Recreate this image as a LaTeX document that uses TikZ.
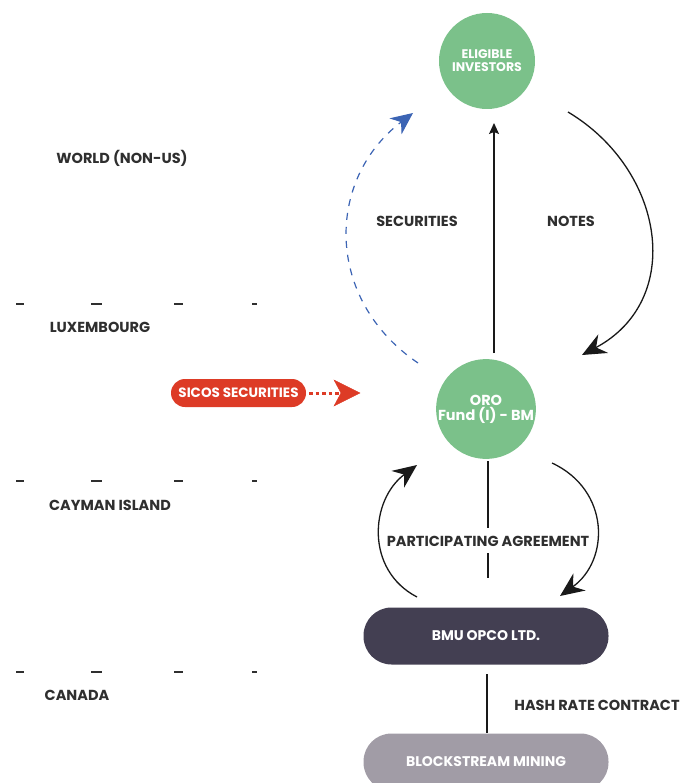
\documentclass[tikz,border=0pt]{standalone}
\usepackage{fontspec}
\setmainfont{Poppins}
\usetikzlibrary{arrows.meta}
\definecolor{grn}{HTML}{7BC18A}
\definecolor{darkbox}{HTML}{433F52}
\definecolor{greybox}{HTML}{A19CA6}
\definecolor{redbox}{HTML}{DD3B26}
\definecolor{bluearr}{HTML}{3C64B4}
\definecolor{txt}{HTML}{2F2F2F}
\begin{document}
\begin{tikzpicture}[x=1pt,y=-1pt,
  lbl/.style={font=\bfseries\fontsize{14.5}{16}\selectfont, text=txt, inner sep=0pt},
  circ/.style={circle, fill=grn, minimum size=96pt, inner sep=0pt, text=white, align=center},
  pill/.style={rectangle, rounded corners=28pt, minimum width=245pt, minimum height=57pt, text=white, inner sep=0pt, font=\bfseries\fontsize{14}{16}\selectfont},
  tip/.style={-{Stealth[length=24pt,width=21pt,inset=8pt]}},
  arr/.style={draw=black!90, line width=1.3pt},
  tick/.style={draw=txt, line width=1.4pt}]
\useasboundingbox (0,0) rectangle (689,783);
% left labels and ticks
\node[lbl] (world) at (122,158) {WORLD (NON-US)};
\node[lbl] (lux) at (100,327) {LUXEMBOURG};
\node[lbl] (cay) at (110,505) {CAYMAN ISLAND};
\node[lbl] (can) at (77,695) {CANADA};
\foreach \yy in {304,481,672}{
  \draw[tick] (16,\yy) -- (24,\yy);
  \draw[tick] (91,\yy) -- (102,\yy);
  \draw[tick] (174,\yy) -- (183,\yy);
  \draw[tick] (252,\yy) -- (257,\yy);
}
% nodes
\node[circ, font=\bfseries\fontsize{12.5}{14}\selectfont] (inv) at (487,61) {ELIGIBLE\\[-1pt]INVESTORS};
\node[circ, font=\bfseries\fontsize{14.5}{16}\selectfont] (oro) at (486,409) {ORO\\[-1pt]Fund (I) - BM};
\node[pill, fill=darkbox] (bmu) at (486,636) {BMU OPCO LTD.};
\node[pill, fill=greybox] (bsm) at (486,762) {BLOCKSTREAM MINING};
\node[rectangle, rounded corners=14pt, fill=redbox, minimum width=135pt, minimum height=28pt, inner sep=0pt, text=white, font=\bfseries\fontsize{13.5}{15}\selectfont] (sicos) at (238.5,393) {SICOS SECURITIES};
% labels
\node[lbl] (sec) at (417,221) {SECURITIES};
\node[lbl] (notes) at (571,221) {NOTES};
\node[lbl] (part) at (488,541) {PARTICIPATING AGREEMENT};
\node[lbl] (hash) at (597,705) {HASH RATE CONTRACT};
% coordinates
\coordinate (oroTop) at (494,353);
\coordinate (invBot) at (494,123);
% vertical arrow ORO -> investors
\draw[arr, -{Stealth[length=11pt,width=10pt,inset=2pt]}] (oroTop) -- (invBot);
% notes curve
\draw[arr, tip] (568,112) .. controls (665,170) and (685,300) .. (582,355);
% blue dashed securities
\draw[bluearr, line width=1.2pt, dash pattern=on 7pt off 7pt, -{Stealth[length=22pt,width=20pt,inset=7pt,fill=bluearr]}] (418,363) .. controls (325,300) and (325,180) .. (413,113);
% sicos dotted arrow
\draw[redbox, line width=3pt, dash pattern=on 3.5pt off 3pt] (sicos.east) ++(3,0) -- (339,393);
\draw[redbox, fill=redbox] (360,393) -- (334,380) -- (341,393) -- (334,406) -- cycle;
% participating lines
\draw[arr] (oro.south) ++(2,2) -- (488,528);
\draw[arr] (488,553) -- (488,578);
% curved arrows between ORO and BMU
\draw[arr, tip] (417,597) .. controls (365,570) and (370,500) .. (417,465);
\draw[arr, tip] (552,463) .. controls (610,490) and (610,560) .. (560,596);
% hash rate line
\draw[arr] (487,674) -- (487,733);
\end{tikzpicture}
\end{document}
